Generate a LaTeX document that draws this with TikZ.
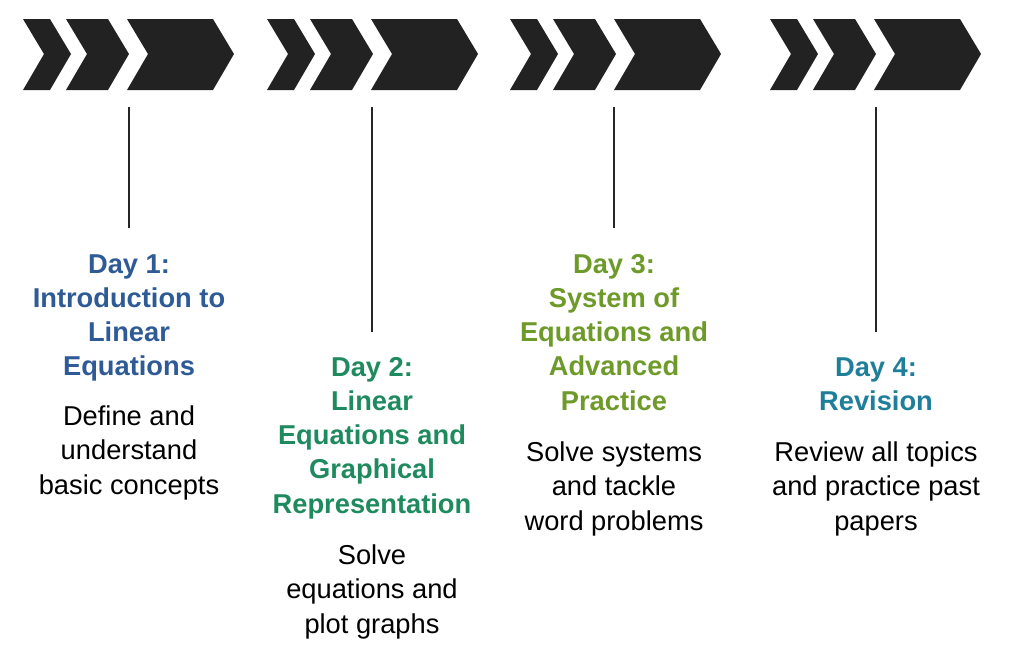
\documentclass[tikz,border=0pt]{standalone}
\usepackage{fontspec}
\setmainfont{Liberation Sans}
\usetikzlibrary{positioning}

\definecolor{dayblue}{HTML}{2E5A96}
\definecolor{daygreen}{HTML}{1F8A5E}
\definecolor{dayolive}{HTML}{6E9A2A}
\definecolor{dayteal}{HTML}{1F7F9A}
\definecolor{chev}{HTML}{222222}

\tikzset{
  daytitle/.style={font=\fontsize{19.4}{24.3}\selectfont\bfseries, align=center, anchor=north, inner sep=0pt},
  daytext/.style={font=\fontsize{19.4}{24.8}\selectfont, align=center, anchor=north, inner sep=0pt, text=black},
  stem/.style={line width=1.6pt, black!85},
}

\begin{document}
\begin{tikzpicture}[x=0.025cm, y=-0.025cm]
            % Page frame
            \useasboundingbox (0,0) rectangle (1024,660);

            % Chevrons: one group of three per day
            \def\d{21}
            \foreach \g in {0,244,487,747} {
              \foreach \xa/\xb in {23/50, 66/108, 127/213} {
                \fill[chev] ({\g+\xa},19) -- ({\g+\xb},19) -- ({\g+\xb+\d},54)
                  -- ({\g+\xb},90) -- ({\g+\xa},90) -- ({\g+\xa+\d},54) -- cycle;
              }
            }

            % Stems
            \coordinate (s1a) at (129,107); \coordinate (s1b) at (129,228);
            \coordinate (s2a) at (372,107); \coordinate (s2b) at (372,332);
            \coordinate (s3a) at (614,107); \coordinate (s3b) at (614,228);
            \coordinate (s4a) at (876,107); \coordinate (s4b) at (876,332);
            \foreach \i in {1,...,4} \draw[stem] (s\i a) -- (s\i b);

            % Day titles
            \node[daytitle, text=dayblue] (t1) at (129,254) {Day 1:\\Introduction to\\Linear\\Equations};
            \node[daytitle, text=daygreen] (t2) at (372,357) {Day 2:\\Linear\\Equations and\\Graphical\\Representation};
            \node[daytitle, text=dayolive] (t3) at (614,254) {Day 3:\\System of\\Equations and\\Advanced\\Practice};
            \node[daytitle, text=dayteal] (t4) at (876,357) {Day 4:\\Revision};

            % Day descriptions
            \node[daytext] (d1) at (129,405) {Define and\\understand\\basic concepts};
            \node[daytext] (d2) at (372,544) {Solve\\equations and\\plot graphs};
            \node[daytext] (d3) at (614,441) {Solve systems\\and tackle\\word problems};
            \node[daytext] (d4) at (876,441) {Review all topics\\and practice past\\papers};
\end{tikzpicture}
\end{document}
